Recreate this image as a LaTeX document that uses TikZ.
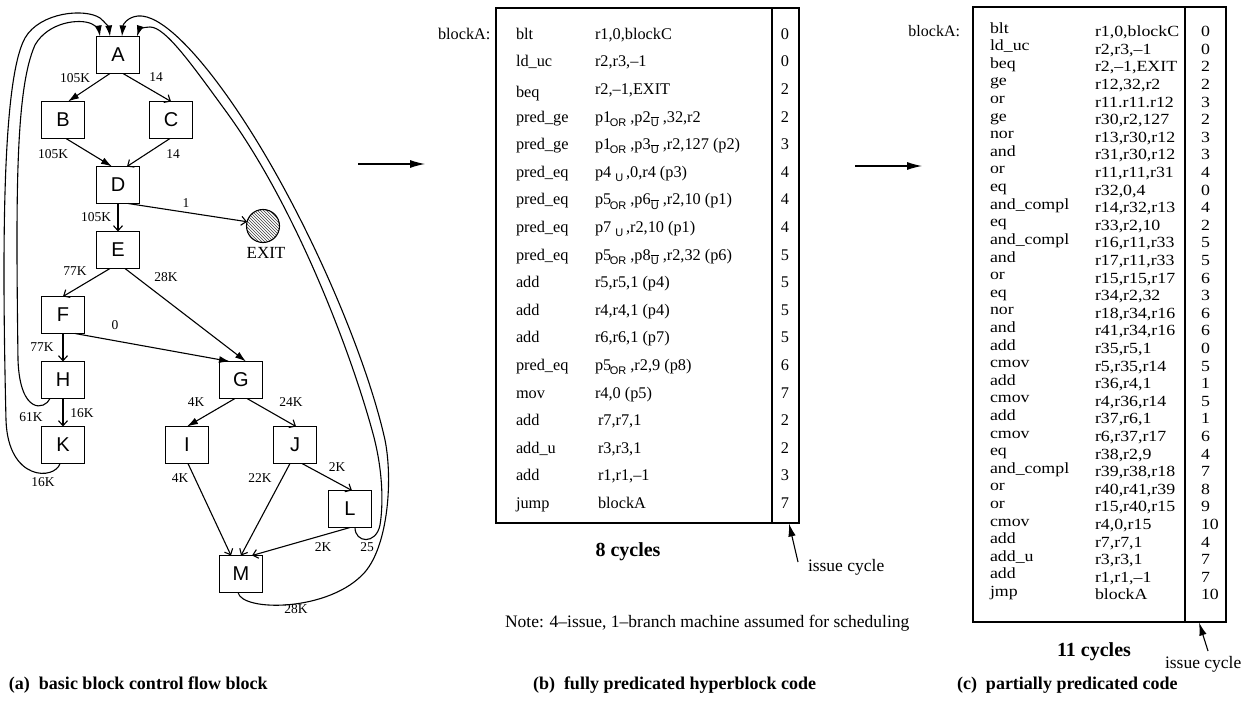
\documentclass[tikz,border=0pt]{standalone}
\usepackage{fontspec}
\setmainfont{Liberation Serif}
\setsansfont{Liberation Sans}
\newfontfamily\rfont{Liberation Serif}[FakeStretch=1.15,Ligatures=TeX]
\usetikzlibrary{arrows.meta,patterns}
\newcommand\sOR{\kern-1.5pt\raisebox{-0.55ex}{\sffamily\fontsize{11}{11}\selectfont OR}}
\newcommand\sU{\raisebox{-0.55ex}{\sffamily\fontsize{11}{11}\selectfont U}}
\newcommand\sUb{\raisebox{-0.55ex}{\sffamily\fontsize{11}{11}\selectfont$\overline{\mbox{U}}$}}
\begin{document}
\begin{tikzpicture}[x=1pt,y=-1pt,
  every node/.style={inner sep=0pt,outer sep=0pt},
  blk/.style={draw,line width=1.1pt,minimum width=43pt,minimum height=37pt,font=\sffamily\fontsize{20}{20}\selectfont},
  lbl/.style={font=\fontsize{13.5}{13.5}\selectfont},
  code/.style={font=\fontsize{16.3}{16.3}\selectfont},
  rcode/.style={font=\rfont\fontsize{15.5}{15.5}\selectfont},
  captxt/.style={font=\bfseries\fontsize{18}{18}\selectfont},
  conn/.style={line width=1.1pt},
  fa/.style={conn,-{Latex[length=11pt,width=7pt]}},
  oa/.style={conn,-{Straight Barb[length=5pt,width=9pt]}},
  pa/.style={conn,-{Latex[length=15pt,width=8pt]}},
  ia/.style={conn,-{Latex[length=13pt,width=7.5pt]}},
  panel/.style={line width=1.3pt}]
\fill[white] (0,0) rectangle (1246,703);
\useasboundingbox (0,0) rectangle (1246,703);

% ---------- (a) control flow graph ----------
\node[blk] (A) at (118,55) {A};
\node[blk] (B) at (63,120) {B};
\node[blk] (C) at (171,120) {C};
\node[blk] (D) at (118,185) {D};
\node[blk] (E) at (118,250) {E};
\node[blk] (F) at (63,315) {F};
\node[blk] (H) at (63,380) {H};
\node[blk] (K) at (63,445) {K};
\node[blk] (G) at (241,380) {G};
\node[blk] (I) at (187,445) {I};
\node[blk] (J) at (295,445) {J};
\node[blk] (L) at (350,509) {L};
\node[blk] (M) at (241,574) {M};
\node[circle,draw,line width=1.1pt,minimum size=33pt,pattern=north west lines,pattern color=black!75] (EXIT) at (263,226) {};
\node[font=\fontsize{17}{17}\selectfont] (exitl) at (266,253) {EXIT};

\draw[fa] ([xshift=-8]A.south) -- ([xshift=5]B.north);
\draw[oa] ([xshift=5]A.south) -- (C.north);
\draw[fa] ([xshift=3]B.south) -- ([xshift=-6]D.north);
\draw[oa] ([xshift=-1]C.south) -- ([xshift=9]D.north);
\draw[oa] (D.south) -- (E.north);
\draw[oa] ([xshift=10]D.south) -- (EXIT.165);
\draw[oa] ([xshift=-8]E.south) -- (F.north);
\draw[fa] ([xshift=7]E.south) -- ([xshift=5]G.north);
\draw[oa] (F.south) -- (H.north);
\draw[fa] ([xshift=12]F.south) -- ([xshift=-11]G.north);
\draw[oa] (H.south) -- (K.north);
\draw[fa] ([xshift=-6]G.south) -- (I.north);
\draw[oa] ([xshift=6]G.south) -- ([xshift=1]J.north);
\draw[oa] ([xshift=1]I.south) -- ([xshift=-10]M.north);
\draw[oa] ([xshift=-5]J.south) -- (M.north);
\draw[oa] ([xshift=7]J.south) -- ([xshift=2]L.north);
\draw[oa] (L.south) -- ([xshift=11]M.north);

% back edges
\draw[fa] ([xshift=-13]H.south) .. controls (45,410) and (20,415) .. (18,360)
  .. controls (16,200) and (15,90) .. (35,45)
  .. controls (48,22) and (80,18) .. (92,24)
  .. controls (96,26) and (99,30) .. ([xshift=-18]A.north);
\draw[fa] ([xshift=-3]K.south) .. controls (55,480) and (8,482) .. (6,420)
  .. controls (2,250) and (2,80) .. (25,38)
  .. controls (40,12) and (85,8) .. (100,18)
  .. controls (105,22) and (109,28) .. ([xshift=-8]A.north);
\draw[fa] ([xshift=-3]M.south) .. controls (242,612) and (330,612) .. (365,572)
  .. controls (388,545) and (393,480) .. (385,440)
  .. controls (365,350) and (300,200) .. (230,100)
  .. controls (195,50) and (160,14) .. (138,16)
  .. controls (128,17) and (123,24) .. ([xshift=4]A.north);
\draw[fa] ([xshift=5]L.south) .. controls (355,543) and (376,545) .. (380,525)
  .. controls (384,500) and (382,465) .. (372,430)
  .. controls (350,350) and (295,205) .. (225,110)
  .. controls (190,62) and (165,27) .. (150,27)
  .. controls (143,27) and (139,30) .. ([xshift=19]A.north);

% edge labels
\node[lbl] (l1) at (75,78) {105K};
\node[lbl] (l2) at (156,77) {14};
\node[lbl] (l3) at (53,154) {105K};
\node[lbl] (l4) at (173,154) {14};
\node[lbl] (l5) at (96,217) {105K};
\node[lbl] (l6) at (186,203) {1};
\node[lbl] (l7) at (75,271) {77K};
\node[lbl] (l8) at (166,277) {28K};
\node[lbl] (l9) at (115,325) {0};
\node[lbl] (l10) at (42,347) {77K};
\node[lbl] (l11) at (82,413) {16K};
\node[lbl] (l12) at (31,417) {61K};
\node[lbl] (l13) at (43,482) {16K};
\node[lbl] (l14) at (196,402) {4K};
\node[lbl] (l15) at (291,402) {24K};
\node[lbl] (l16) at (180,478) {4K};
\node[lbl] (l17) at (260,478) {22K};
\node[lbl] (l18) at (337,467) {2K};
\node[lbl] (l19) at (323,547) {2K};
\node[lbl] (l20) at (367,547) {25};
\node[lbl] (l21) at (296,609) {28K};

% panel arrows
\coordinate (pa1) at (358,164);
\coordinate (pa2) at (425,164);
\draw[pa] (pa1) -- (pa2);
\coordinate (pb1) at (855,166);
\coordinate (pb2) at (922,166);
\draw[pa] (pb1) -- (pb2);

% ---------- (b) fully predicated code ----------
\node[code,anchor=base west] (mlab) at (438,39.3) {blockA:};
\draw[panel] (496,8) rectangle (799,523);
\draw[panel] (772,8) -- (772,523);
\foreach \op/\ar/\cy [count=\i from 0] in {
  blt/{r1,0,blockC}/0,
  ld\_uc/{r2,r3,--1}/0,
  \raisebox{-3pt}{beq}/{r2,--1,EXIT}/2,
  pred\_ge/{p1\sOR\ ,p2\sUb\ ,32,r2}/2,
  pred\_ge/{p1\sOR\ ,p3\sUb\ ,r2,127 (p2)}/3,
  pred\_eq/{p4 \sU\,,0,r4 (p3)}/4,
  pred\_eq/{p5\sOR\ ,p6\sUb\ ,r2,10 (p1)}/4,
  pred\_eq/{p7 \sU\,,r2,10 (p1)}/4,
  pred\_eq/{p5\sOR\ ,p8\sUb\ ,r2,32 (p6)}/5,
  add/{r5,r5,1 (p4)}/5,
  add/{r4,r4,1 (p4)}/5,
  add/{r6,r6,1 (p7)}/5,
  pred\_eq/{p5\sOR\ ,r2,9 (p8)}/6,
  mov/{r4,0 (p5)}/7,
  add/{\kern3pt r7,r7,1}/2,
  add\_u/{\kern3pt r3,r3,1}/2,
  add/{\kern3pt r1,r1,--1}/3,
  jump/{\kern3pt blockA}/7} {
  \node[code,anchor=base west] (mo\i) at (516,{39.3+27.6*\i}) {\op};
  \node[code,anchor=base west] (ma\i) at (595,{39.3+27.6*\i}) {\ar};
  \node[code,anchor=base] (mc\i) at (785,{39.3+27.6*\i}) {\cy};
}
\node[font=\bfseries\fontsize{20}{20}\selectfont] (cyc8) at (628,552) {8 cycles};
\node[font=\fontsize{17.5}{17.5}\selectfont,anchor=west] (iss1) at (808,567) {issue cycle};
\coordinate (ic1) at (798,562);
\coordinate (ib1) at (789,523.5);
\draw[ia] (ic1) -- (ib1);
\node[font=\fontsize{17.5}{17.5}\selectfont,anchor=west] (note) at (505,623) {Note: 4--issue, 1--branch machine assumed for scheduling};

% ---------- (c) partially predicated code ----------
\node[font=\fontsize{16}{16}\selectfont,anchor=base east] (rlab) at (960,36.7) {blockA:};
\draw[panel] (973,7) rectangle (1226,622);
\draw[panel] (1185,7) -- (1185,622);
\foreach \op/\ar/\cy [count=\i from 0] in {
  blt/{r1,0,blockC}/0,
  ld\_uc/{r2,r3,--1}/0,
  beq/{r2,--1,EXIT}/2,
  ge/{r12,32,r2}/2,
  or/{r11.r11.r12}/3,
  ge/{r30,r2,127}/2,
  nor/{r13,r30,r12}/3,
  and/{r31,r30,r12}/3,
  or/{r11,r11,r31}/4,
  eq/{r32,0,4}/0,
  and\_compl/{r14,r32,r13}/4,
  eq/{r33,r2,10}/2,
  and\_compl/{r16,r11,r33}/5,
  and/{r17,r11,r33}/5,
  or/{r15,r15,r17}/6,
  eq/{r34,r2,32}/3,
  nor/{r18,r34,r16}/6,
  and/{r41,r34,r16}/6,
  add/{r35,r5,1}/0,
  cmov/{r5,r35,r14}/5,
  add/{r36,r4,1}/1,
  cmov/{r4,r36,r14}/5,
  add/{r37,r6,1}/1,
  cmov/{r6,r37,r17}/6,
  eq/{r38,r2,9}/4,
  and\_compl/{r39,r38,r18}/7,
  or/{r40,r41,r39}/8,
  or/{r15,r40,r15}/9,
  cmov/{r4,0,r15}/10,
  add/{r7,r7,1}/4,
  add\_u/{r3,r3,1}/7,
  add/{r1,r1,--1}/7,
  jmp/{blockA}/10} {
  \node[rcode,anchor=base west] (ro\i) at (990,{33.2+17.6*\i}) {\op};
  \node[rcode,anchor=base west] (ra\i) at (1095,{36.7+17.6*\i}) {\ar};
  \node[rcode,anchor=base west] (rc\i) at (1201,{36.7+17.6*\i}) {\cy};
}
\node[font=\bfseries\fontsize{20}{20}\selectfont] (cyc11) at (1094,652) {11 cycles};
\node[font=\fontsize{17.5}{17.5}\selectfont,anchor=west] (iss2) at (1165,664) {issue cycle};
\coordinate (ic2) at (1208,651);
\coordinate (ib2) at (1199,622.5);
\draw[ia] (ic2) -- (ib2);

% captions
\node[captxt,anchor=base west] (capa) at (9,689) {(a)\ \ basic block control flow block};
\node[captxt,anchor=base west] (capb) at (533,689) {(b)\ \ fully predicated hyperblock code};
\node[captxt,anchor=base west] (capc) at (957,689) {(c)\ \ partially predicated code};
\end{tikzpicture}
\end{document}
